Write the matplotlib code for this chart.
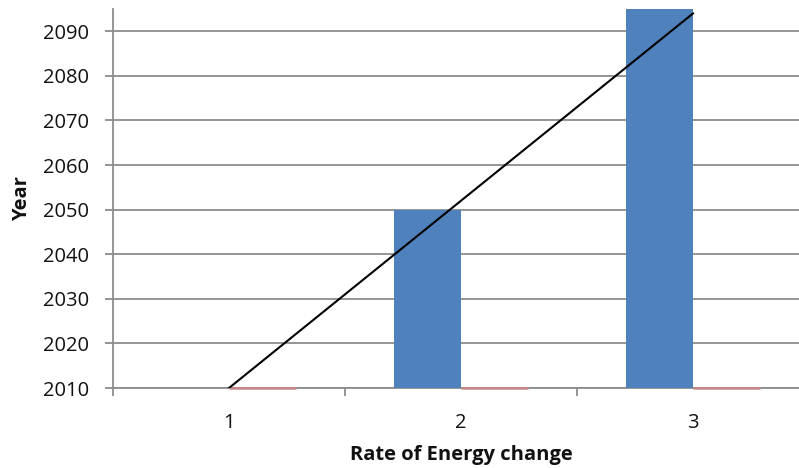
import matplotlib
matplotlib.use("Agg")
import matplotlib.pyplot as plt
import numpy as np

# data
categories = [1, 2, 3]
blue_values = [2010, 2050, 2100]
red_values = [2010, 2010, 2010]
line_values = [2010, 2094]
line_categories = [1, 3]
y_ticks = [2010, 2020, 2030, 2040, 2050, 2060, 2070, 2080, 2090]

BASE = 2010
BLUE = "#4f81bd"
RED = "#c98a8a"
GRID = "#8c8c8c"
TEXT = "#111111"
FONT = "Open Sans"

plt.rcParams["font.family"] = [FONT, "DejaVu Sans"]

fig = plt.figure(figsize=(7.99, 4.68), dpi=100, facecolor="white")
ax = fig.add_axes([113 / 799, 1 - 388 / 468, 696 / 799, 379 / 468])

x = np.array(categories, dtype=float)
width = 0.288
ax.bar(x - width / 2, np.array(blue_values) - BASE, bottom=BASE, width=width,
       color=BLUE, zorder=3)
red_bars = ax.bar(x + width / 2, np.array(red_values) - BASE, bottom=BASE, width=width,
                  color=RED, edgecolor=RED, linewidth=1.8, zorder=4)
for b in red_bars:
    b.set_clip_on(False)
ax.plot(line_categories, line_values, color="black", linewidth=1.5, zorder=5)

ax.set_xlim(0.5, 3.5)
ax.set_ylim(BASE, 2095)
ax.set_yticks(y_ticks)
ax.set_xticks(categories)
ax.set_xticks([0.5, 1.5, 2.5, 3.5], minor=True)

ax.yaxis.grid(True, color=GRID, linewidth=1.3, zorder=0)
ax.set_axisbelow(True)
for side in ["top", "right"]:
    ax.spines[side].set_visible(False)
for side in ["left", "bottom"]:
    ax.spines[side].set_color(GRID)
    ax.spines[side].set_linewidth(1.3)

ax.tick_params(axis="y", length=6, width=1.3, color=GRID, pad=11,
               labelsize=14.5, labelcolor=TEXT)
ax.tick_params(axis="x", which="major", length=0, pad=18,
               labelsize=14.5, labelcolor=TEXT)
ax.tick_params(axis="x", which="minor", length=6, width=1.3, color=GRID)

ax.set_xlabel("Rate of Energy change", fontsize=14.5, fontweight="bold", color=TEXT)
ax.set_ylabel("Year", fontsize=14.5, fontweight="bold", color=TEXT)
ax.xaxis.set_label_coords(0.5, -0.177)
ax.yaxis.set_label_coords(-0.131, 0.5)
ax.xaxis.label.set_va("center")
ax.yaxis.label.set_va("center")

fig.savefig("out.png", dpi=100, facecolor="white")
